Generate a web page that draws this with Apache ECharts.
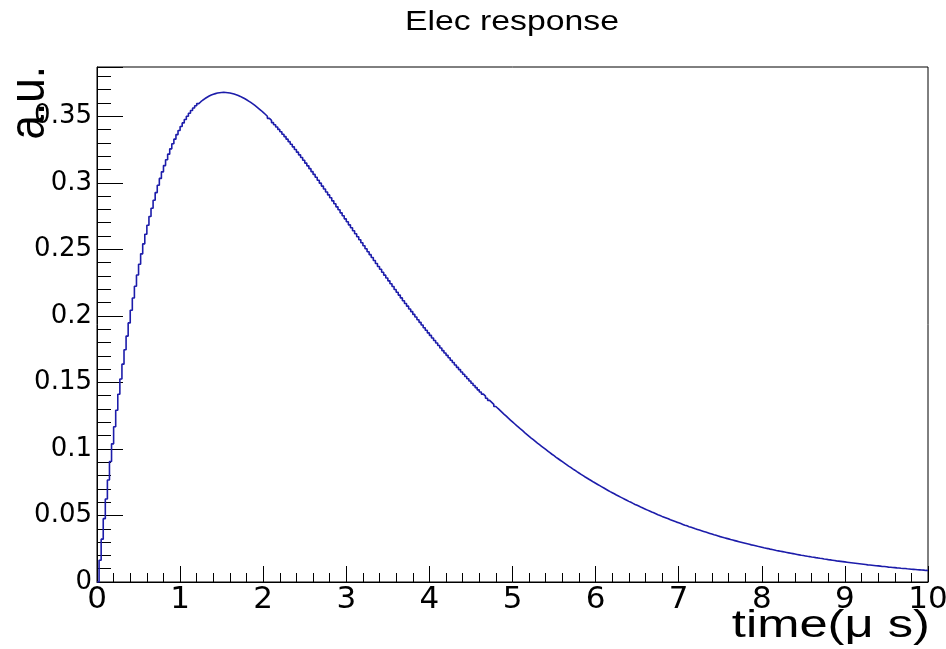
<!DOCTYPE html>
<html>
<head>
<meta charset="utf-8">
<script src="https://cdn.jsdelivr.net/npm/echarts@6/dist/echarts.min.js"></script>
<style>
html,body{margin:0;padding:0;background:#fff;}
#chart{width:946px;height:649px;}
</style>
</head>
<body>
<div id="chart"></div>
<script>
// Histogram "Elec response": 400 bins of 0.025 us from 0 to 10 us
const titleText = 'Elec response';
const xTitle = 'time(\u03bc s)';
const yTitle = 'a.u.';
const xTickLabels = ['0','1','2','3','4','5','6','7','8','9','10'];
const yTickLabels = ['0','0.05','0.1','0.15','0.2','0.25','0.3','0.35'];
const xRange = [0, 10];
const yRange = [0, 0.387];
const binWidth = 0.025;
const binContents = [
  0, 0.0164, 0.0322, 0.0476, 0.0624, 0.0767, 0.0905, 0.1038, 0.1167, 0.1291,
  0.1411, 0.1526, 0.1637, 0.1745, 0.1848, 0.1947, 0.2042, 0.2134, 0.2222, 0.2307,
  0.2388, 0.2466, 0.2541, 0.2613, 0.2681, 0.2747, 0.2809, 0.2869, 0.2926, 0.2981,
  0.3033, 0.3082, 0.3129, 0.3173, 0.3215, 0.3255, 0.3293, 0.3328, 0.3362, 0.3393,
  0.3423, 0.3450, 0.3476, 0.3500, 0.3522, 0.3543, 0.3562, 0.3579, 0.3595, 0.3609,
  0.3622, 0.3633, 0.3643, 0.3652, 0.3659, 0.3665, 0.3670, 0.3674, 0.3677, 0.3678,
  0.3679, 0.3678, 0.3677, 0.3674, 0.3671, 0.3667, 0.3662, 0.3656, 0.3649, 0.3641,
  0.3633, 0.3624, 0.3614, 0.3604, 0.3593, 0.3581, 0.3569, 0.3556, 0.3543, 0.3529,
  0.3515, 0.3500, 0.3484, 0.3469, 0.3452, 0.3436, 0.3419, 0.3401, 0.3383, 0.3365,
  0.3347, 0.3328, 0.3309, 0.3290, 0.3270, 0.3250, 0.3230, 0.3210, 0.3190, 0.3169,
  0.3148, 0.3127, 0.3106, 0.3084, 0.3063, 0.3041, 0.3019, 0.2997, 0.2975, 0.2953,
  0.2931, 0.2909, 0.2887, 0.2864, 0.2842, 0.2819, 0.2797, 0.2774, 0.2752, 0.2729,
  0.2707, 0.2684, 0.2662, 0.2639, 0.2617, 0.2594, 0.2572, 0.2549, 0.2527, 0.2504,
  0.2482, 0.2460, 0.2438, 0.2416, 0.2393, 0.2371, 0.2350, 0.2328, 0.2306, 0.2284,
  0.2263, 0.2241, 0.2220, 0.2198, 0.2177, 0.2156, 0.2135, 0.2114, 0.2093, 0.2073,
  0.2052, 0.2032, 0.2011, 0.1991, 0.1971, 0.1951, 0.1931, 0.1911, 0.1892, 0.1872,
  0.1853, 0.1834, 0.1815, 0.1796, 0.1777, 0.1758, 0.1739, 0.1721, 0.1703, 0.1685,
  0.1666, 0.1649, 0.1631, 0.1613, 0.1596, 0.1578, 0.1561, 0.1544, 0.1527, 0.1510,
  0.1494, 0.1477, 0.1461, 0.1444, 0.1428, 0.1412, 0.1397, 0.1381, 0.1365, 0.1350,
  0.1335, 0.1319, 0.1304, 0.1290, 0.1275, 0.1260, 0.1246, 0.1231, 0.1217, 0.1203,
  0.1189, 0.1175, 0.1162, 0.1148, 0.1135, 0.1121, 0.1108, 0.1095, 0.1082, 0.1070,
  0.1057, 0.1044, 0.1032, 0.1020, 0.1008, 0.0996, 0.0984, 0.0972, 0.0960, 0.0949,
  0.0937, 0.0926, 0.0915, 0.0904, 0.0893, 0.0882, 0.0871, 0.0861, 0.0850, 0.0840,
  0.0829, 0.0819, 0.0809, 0.0799, 0.0789, 0.0780, 0.0770, 0.0761, 0.0751, 0.0742,
  0.0733, 0.0724, 0.0715, 0.0706, 0.0697, 0.0688, 0.0679, 0.0671, 0.0663, 0.0654,
  0.0646, 0.0638, 0.0630, 0.0622, 0.0614, 0.0606, 0.0599, 0.0591, 0.0583, 0.0576,
  0.0569, 0.0561, 0.0554, 0.0547, 0.0540, 0.0533, 0.0526, 0.0520, 0.0513, 0.0506,
  0.0500, 0.0493, 0.0487, 0.0481, 0.0475, 0.0468, 0.0462, 0.0456, 0.0450, 0.0445,
  0.0439, 0.0433, 0.0427, 0.0422, 0.0416, 0.0411, 0.0406, 0.0400, 0.0395, 0.0390,
  0.0385, 0.0380, 0.0375, 0.0370, 0.0365, 0.0360, 0.0355, 0.0351, 0.0346, 0.0341,
  0.0337, 0.0332, 0.0328, 0.0324, 0.0319, 0.0315, 0.0311, 0.0307, 0.0303, 0.0299,
  0.0295, 0.0291, 0.0287, 0.0283, 0.0279, 0.0276, 0.0272, 0.0268, 0.0265, 0.0261,
  0.0257, 0.0254, 0.0251, 0.0247, 0.0244, 0.0241, 0.0237, 0.0234, 0.0231, 0.0228,
  0.0225, 0.0222, 0.0219, 0.0216, 0.0213, 0.0210, 0.0207, 0.0204, 0.0201, 0.0199,
  0.0196, 0.0193, 0.0191, 0.0188, 0.0186, 0.0183, 0.0181, 0.0178, 0.0176, 0.0173,
  0.0171, 0.0168, 0.0166, 0.0164, 0.0162, 0.0159, 0.0157, 0.0155, 0.0153, 0.0151,
  0.0149, 0.0147, 0.0145, 0.0143, 0.0141, 0.0139, 0.0137, 0.0135, 0.0133, 0.0131,
  0.0129, 0.0128, 0.0126, 0.0124, 0.0122, 0.0121, 0.0119, 0.0117, 0.0116, 0.0114,
  0.0112, 0.0111, 0.0109, 0.0108, 0.0106, 0.0105, 0.0103, 0.0102, 0.0101, 0.0099,
  0.0098, 0.0096, 0.0095, 0.0094, 0.0092, 0.0091, 0.0090, 0.0089, 0.0087, 0.0086
];

// build histogram step data: [bin low edge, content], plus the upper edge of the last bin
const histData = binContents.map((v, i) => [xRange[0] + i * binWidth, v]);
histData.push([xRange[0] + binContents.length * binWidth, binContents[binContents.length - 1]]);

const tickFont = 'DejaVu Sans';
const chart = echarts.init(document.getElementById('chart'), null, {renderer: 'canvas'});

function labelFor(list, step) {
  return function (v) {
    const k = Math.round(v / step);
    if (Math.abs(v - k * step) < 1e-6 && k >= 0 && k < list.length) return list[k];
    return '';
  };
}

chart.setOption({
  animation: false,
  backgroundColor: '#ffffff',
  grid: {left: 97, right: 18, top: 67, bottom: 67, show: true, borderColor: '#000', borderWidth: 1,
         backgroundColor: 'transparent', containLabel: false, outerBoundsMode: 'none'},
  xAxis: [
    {
      type: 'value', min: xRange[0], max: xRange[1], interval: 1,
      axisLine: {show: true, lineStyle: {color: '#000', width: 1}},
      axisTick: {show: true, inside: true, length: 16, lineStyle: {color: '#000', width: 1}},
      axisLabel: {show: true, margin: 2, color: '#000', fontSize: 31, fontFamily: tickFont,
                  hideOverlap: false, formatter: labelFor(xTickLabels, 1)},
      splitLine: {show: false}
    },
    {
      type: 'value', min: xRange[0], max: xRange[1], interval: 0.2, position: 'bottom',
      axisLine: {show: false},
      axisTick: {show: true, inside: true, length: 9, lineStyle: {color: '#000', width: 1}},
      axisLabel: {show: false},
      splitLine: {show: false}
    }
  ],
  yAxis: [
    {
      type: 'value', min: yRange[0], max: yRange[1], interval: 0.05,
      axisLine: {show: true, lineStyle: {color: '#000', width: 1}},
      axisTick: {show: true, inside: true, length: 26, lineStyle: {color: '#000', width: 1}},
      axisLabel: {show: true, margin: 5, color: '#000', fontSize: 26, fontFamily: tickFont,
                  formatter: labelFor(yTickLabels, 0.05)},
      splitLine: {show: false}
    },
    {
      type: 'value', min: yRange[0], max: yRange[1], interval: 0.01, position: 'left',
      axisLine: {show: false},
      axisTick: {show: true, inside: true, length: 14, lineStyle: {color: '#000', width: 1}},
      axisLabel: {show: false},
      splitLine: {show: false}
    }
  ],
  series: [{
    type: 'line',
    name: titleText,
    xAxisIndex: 0,
    yAxisIndex: 0,
    step: 'end',
    showSymbol: false,
    symbol: 'none',
    data: histData,
    lineStyle: {color: '#1c1caa', width: 1.6},
    clip: true
  }],
  graphic: [
    {
      type: 'text', x: 512, y: 23, scaleX: 1.25,
      style: {text: titleText, fontSize: 27, fontFamily: 'Liberation Sans, Arial, sans-serif',
              fill: '#000', align: 'center', verticalAlign: 'middle'}
    },
    {
      type: 'text', x: 930, y: 626, scaleX: 1.3,
      style: {text: xTitle, fontSize: 39, fontFamily: 'Liberation Sans, Arial, sans-serif',
              fill: '#000', align: 'right', verticalAlign: 'middle'}
    },
    {
      type: 'text', x: 30, y: 66, rotation: Math.PI / 2, scaleY: 1.15,
      style: {text: yTitle, fontSize: 44, fontFamily: 'Liberation Sans, Arial, sans-serif',
              fill: '#000', align: 'right', verticalAlign: 'middle'}
    }
  ]
});
</script>
</body>
</html>
